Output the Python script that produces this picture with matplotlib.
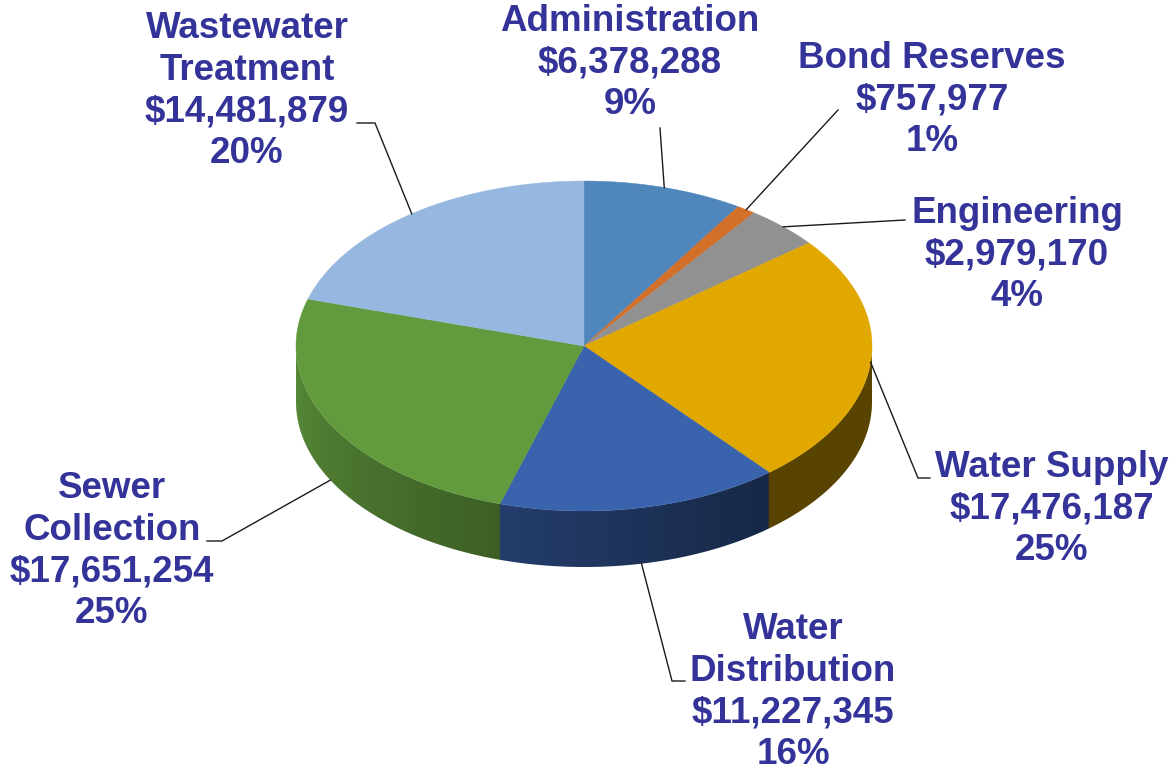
import numpy as np
import matplotlib
matplotlib.use("Agg")
import matplotlib.pyplot as plt
from matplotlib.patches import Polygon
from matplotlib.colors import to_rgb

# budget by division, clockwise from 12 o'clock
divisions = ["Administration", "Bond Reserves", "Engineering", "Water Supply",
             "Water\nDistribution", "Sewer\nCollection", "Wastewater\nTreatment"]
amounts = [6378288, 757977, 2979170, 17476187, 11227345, 17651254, 14481879]
colors = ["#4f86bc", "#d2702a", "#919191", "#e0a800",
          "#3a63ae", "#629a3e", "#96b8e0"]

# label block centres and leader line elbows (pixel layout)
label_xy = [(630, 63), (932, 100), (1017, 255), (1052, 509),
            (793, 692), (112, 551), (247, 91)]
leader_pts = [[(660, 128)], [(838, 110)], [(905, 220)], [(918, 478), (930, 478)],
              [(672, 681), (685, 681)], [(222, 541), (207, 541)], [(375, 123), (357, 123)]]

cx, cy, rx, ry, depth = 584, 346, 288, 165, 56
text_color = "#333399"

plt.rcParams["font.family"] = ["Liberation Sans", "DejaVu Sans"]

fig = plt.figure(figsize=(11.72, 7.72), dpi=100)
ax = fig.add_axes([0, 0, 1, 1])
ax.set_xlim(0, 1172)
ax.set_ylim(772, 0)
ax.axis("off")

vals = np.array(amounts, dtype=float)
frac = vals / vals.sum()
edges = np.concatenate([[0], np.cumsum(frac)]) * 360.0


def ell(theta_deg, dy=0.0):
    t = np.radians(theta_deg)
    return cx + rx * np.sin(t), cy - ry * np.cos(t) + dy


# side wall: a shaded strip image clipped to the front band of the disc
xs_img = np.linspace(cx - rx, cx + rx, 1200)
theta_x = 180.0 - np.degrees(np.arcsin(np.clip((xs_img - cx) / rx, -1, 1)))
idx = np.clip(np.searchsorted(edges, theta_x, side="right") - 1, 0, len(colors) - 1)
base = np.array([to_rgb(c) for c in colors])[idx]
k = 0.4 + 0.5 * np.clip((theta_x - 140.0) / 130.0, 0, 1)
strip = np.clip(base * k[:, None], 0, 1)[None, :, :]
im = ax.imshow(strip, extent=(cx - rx, cx + rx, cy + ry + depth, cy),
               aspect="auto", interpolation="bilinear", zorder=1)
th = np.linspace(90, 270, 400)
tx, ty = ell(th)
band = Polygon(np.c_[np.r_[tx, tx[::-1]], np.r_[ty, ty[::-1] + depth]],
               closed=True, transform=ax.transData)
im.set_clip_path(band)

# top faces
for a0, a1, c in zip(edges[:-1], edges[1:], colors):
    th = np.linspace(a0, a1, max(int((a1 - a0) * 3), 3))
    xs, ys = ell(th)
    ax.fill(np.r_[cx, xs], np.r_[cy, ys], color=c, lw=0.3, ec=c, zorder=2)

# labels and leader lines
for i, (name, v) in enumerate(zip(divisions, amounts)):
    mid = 0.5 * (edges[i] + edges[i + 1])
    ax_, ay_ = ell(mid)
    if 100 < mid < 260:
        ay_ += depth
    pts = [(ax_, ay_)] + leader_pts[i]
    ax.plot([p[0] for p in pts], [p[1] for p in pts], color="#1a1a1a",
            lw=1.0, zorder=3)
    txt = f"{name}\n${v:,}\n{frac[i] * 100:.0f}%"
    ax.text(label_xy[i][0], label_xy[i][1], txt, ha="center", va="center",
            multialignment="center", fontsize=26.5, fontweight="bold",
            color=text_color, linespacing=1.24, zorder=4)

fig.savefig("out.png", dpi=100)
